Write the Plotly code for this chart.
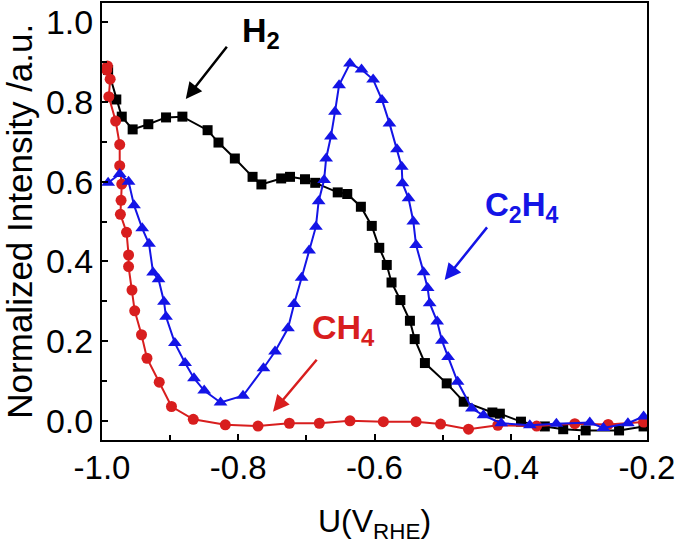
import plotly.graph_objects as go

# ---- data ----
h2_x = [-0.991, -0.979, -0.971, -0.955, -0.932, -0.906, -0.882, -0.845, -0.829, -0.805,
        -0.779, -0.766, -0.737, -0.724, -0.702, -0.687, -0.654, -0.640, -0.620, -0.604,
        -0.593, -0.582, -0.575, -0.562, -0.548, -0.541, -0.526, -0.494, -0.469, -0.427,
        -0.416, -0.385, -0.350, -0.323, -0.290, -0.241, -0.205]
h2_y = [0.880, 0.806, 0.763, 0.731, 0.744, 0.761, 0.763, 0.729, 0.698, 0.658,
        0.612, 0.593, 0.608, 0.612, 0.606, 0.597, 0.573, 0.569, 0.537, 0.489,
        0.434, 0.391, 0.347, 0.303, 0.251, 0.205, 0.145, 0.094, 0.048, 0.021,
        0.018, -0.002, -0.014, -0.021, -0.024, -0.024, -0.014]

ch4_x = [-0.993, -0.992, -0.988, -0.990, -0.980, -0.974, -0.974, -0.971, -0.972, -0.973,
         -0.964, -0.961, -0.961, -0.956, -0.952, -0.942, -0.934, -0.916, -0.898, -0.866,
         -0.819, -0.771, -0.725, -0.681, -0.636, -0.587, -0.539, -0.503, -0.462, -0.419,
         -0.362, -0.306, -0.257, -0.205]
ch4_y = [0.880, 0.890, 0.857, 0.813, 0.752, 0.693, 0.640, 0.594, 0.553, 0.518,
         0.473, 0.416, 0.387, 0.328, 0.276, 0.216, 0.157, 0.097, 0.036, 0.004,
         -0.010, -0.013, -0.006, -0.006, 0.000, -0.002, -0.002, -0.008, -0.021, -0.011,
         -0.013, -0.007, -0.009, -0.003]

c2h4_x = [-0.991, -0.974, -0.961, -0.953, -0.941, -0.931, -0.925, -0.917, -0.909, -0.906,
          -0.893, -0.878, -0.865, -0.850, -0.826, -0.793, -0.763, -0.746, -0.727, -0.718,
          -0.707, -0.696, -0.686, -0.682, -0.674, -0.671, -0.664, -0.658, -0.652, -0.636,
          -0.619, -0.602, -0.589, -0.578, -0.567, -0.560, -0.559, -0.550, -0.543, -0.539,
          -0.528, -0.522, -0.519, -0.508, -0.501, -0.492, -0.478, -0.457, -0.440, -0.414,
          -0.372, -0.333, -0.284, -0.264, -0.228, -0.205]
c2h4_y = [0.597, 0.619, 0.600, 0.541, 0.483, 0.444, 0.372, 0.355, 0.299, 0.261,
          0.195, 0.145, 0.107, 0.076, 0.046, 0.063, 0.132, 0.174, 0.232, 0.293,
          0.359, 0.427, 0.487, 0.551, 0.604, 0.658, 0.713, 0.775, 0.842, 0.896,
          0.881, 0.856, 0.805, 0.746, 0.681, 0.637, 0.596, 0.558, 0.500, 0.441,
          0.373, 0.333, 0.295, 0.249, 0.201, 0.160, 0.098, 0.031, 0.014, -0.006,
          -0.011, -0.007, -0.004, -0.018, -0.006, 0.011]

x_tickvals = [-1.0, -0.8, -0.6, -0.4, -0.2]
x_ticktext = ["-1.0", "-0.8", "-0.6", "-0.4", "-0.2"]
y_tickvals = [0.0, 0.2, 0.4, 0.6, 0.8, 1.0]
y_ticktext = ["0.0", "0.2", "0.4", "0.6", "0.8", "1.0"]

BLACK = "#000000"
RED = "#d81e1e"
BLUE = "#1414e6"
FONT = "Liberation Sans, Arial, sans-serif"

fig = go.Figure()
fig.add_trace(go.Scatter(x=h2_x, y=h2_y, mode="lines+markers", name="H2",
                         line=dict(color=BLACK, width=2),
                         marker=dict(symbol="square", size=10, color=BLACK)))
fig.add_trace(go.Scatter(x=ch4_x, y=ch4_y, mode="lines+markers", name="CH4",
                         line=dict(color=RED, width=2),
                         marker=dict(symbol="circle", size=11, color=RED)))
fig.add_trace(go.Scatter(x=c2h4_x, y=c2h4_y, mode="lines+markers", name="C2H4",
                         line=dict(color=BLUE, width=2),
                         marker=dict(symbol="triangle-up", size=12, color=BLUE)))

# labels
fig.add_annotation(x=-0.797, y=1.034, xref="x", yref="y", text="<b>H<sub>2</sub></b>",
                   showarrow=False, xanchor="left", yanchor="top",
                   font=dict(family=FONT, size=34, color=BLACK))
fig.add_annotation(x=-0.441, y=0.595, xref="x", yref="y", text="<b>C<sub>2</sub>H<sub>4</sub></b>",
                   showarrow=False, xanchor="left", yanchor="top",
                   font=dict(family=FONT, size=33, color=BLUE))
fig.add_annotation(x=-0.695, y=0.288, xref="x", yref="y", text="<b>CH<sub>4</sub></b>",
                   showarrow=False, xanchor="left", yanchor="top",
                   font=dict(family=FONT, size=34, color=RED))

# arrows
for (tx, ty, hx, hy, col) in [(-0.815, 0.942, -0.877, 0.807, BLACK),
                              (-0.433, 0.489, -0.497, 0.353, BLUE),
                              (-0.683, 0.157, -0.749, 0.023, RED)]:
    fig.add_annotation(x=hx, y=hy, ax=tx, ay=ty, xref="x", yref="y", axref="x", ayref="y",
                       text="", showarrow=True, arrowhead=2, arrowsize=1.3,
                       arrowwidth=2.5, arrowcolor=col)

# axis titles
fig.add_annotation(x=0.5, y=-0.139, xref="paper", yref="paper", text="U(V<sub>RHE</sub>)",
                   showarrow=False, xanchor="center", yanchor="top",
                   font=dict(family=FONT, size=32, color=BLACK))
fig.add_annotation(x=-0.152, y=0.5, xref="paper", yref="paper", text="Normalized Intensity /a.u.",
                   showarrow=False, xanchor="center", yanchor="middle", textangle=-90,
                   font=dict(family=FONT, size=35, color=BLACK))

fig.update_xaxes(range=[-1.0, -0.2], tickvals=x_tickvals, ticktext=x_ticktext,
                 ticks="inside", ticklen=6, tickwidth=1.5, tickcolor=BLACK,
                 minor=dict(dtick=0.1, tick0=-1.0, ticks="inside", ticklen=5, tickwidth=1.5, tickcolor=BLACK),
                 showline=True, linecolor=BLACK, linewidth=2, mirror=True,
                 showgrid=False, zeroline=False, ticklabelstandoff=-3,
                 tickfont=dict(family=FONT, size=33, color=BLACK))
fig.update_yaxes(range=[-0.048, 1.048], tickvals=y_tickvals, ticktext=y_ticktext,
                 ticks="inside", ticklen=6, tickwidth=1.5, tickcolor=BLACK,
                 minor=dict(dtick=0.1, tick0=0.0, ticks="inside", ticklen=5, tickwidth=1.5, tickcolor=BLACK),
                 showline=True, linecolor=BLACK, linewidth=2, mirror=True,
                 showgrid=False, zeroline=False,
                 tickfont=dict(family=FONT, size=34, color=BLACK))

fig.update_layout(width=677, height=552, showlegend=False,
                  margin=dict(l=102, r=30, t=3, b=112, autoexpand=False),
                  plot_bgcolor="white", paper_bgcolor="white",
                  font=dict(family=FONT))

fig.write_html("out.html", config={"displayModeBar": False},
               post_script="document.body.style.margin='0';")
